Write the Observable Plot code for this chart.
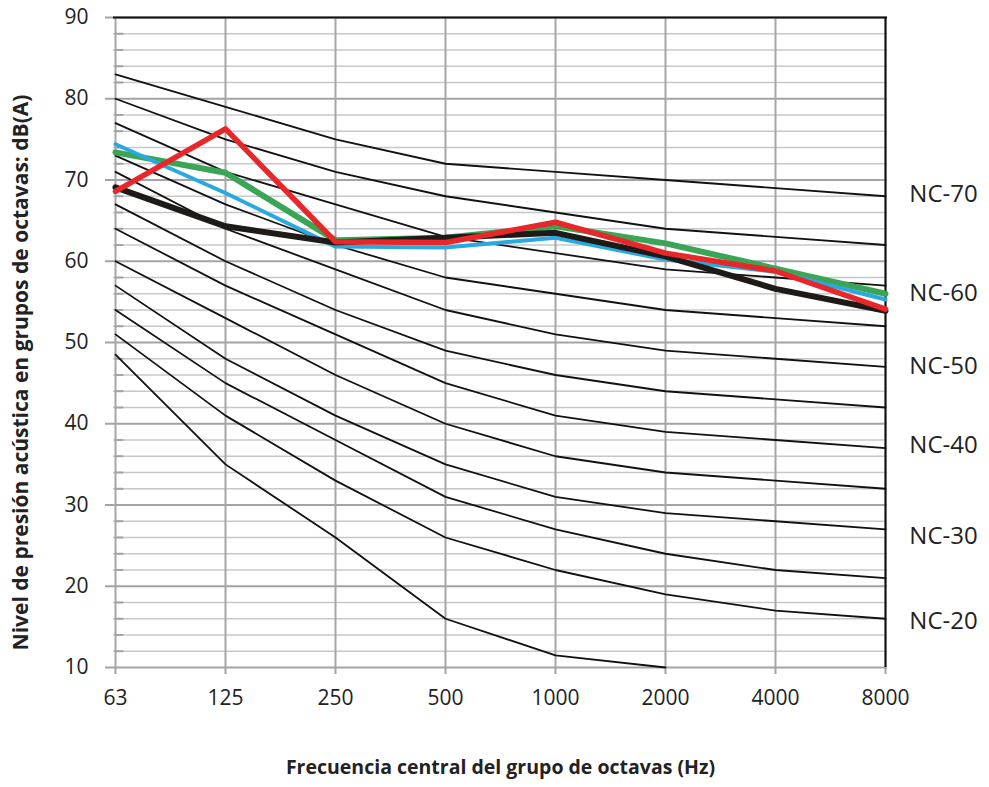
<!DOCTYPE html>
<html>
<head>
<meta charset="utf-8">
<script src="https://cdn.jsdelivr.net/npm/d3@7"></script>
<script src="https://cdn.jsdelivr.net/npm/@observablehq/plot@0.6"></script>
<style>
  html, body { margin: 0; padding: 0; background: #ffffff; }
  #chart svg { display: block; }
</style>
</head>
<body>
<div id="chart"></div>
<script>
// Frequencies (Hz) – x categories
const frecuencias = ["63", "125", "250", "500", "1000", "2000", "4000", "8000"];

// NC curves (dB)
const nc70 = [83, 79, 75, 72, 71, 70, 69, 68];
const nc65 = [80, 75, 71, 68, 66, 64, 63, 62];
const nc60 = [77, 71, 67, 63, 61, 59, 58, 57];
const nc55 = [73, 67, 62, 58, 56, 54, 53, 52];
const nc50 = [71, 64, 59, 54, 51, 49, 48, 47];
const nc45 = [67, 60, 54, 49, 46, 44, 43, 42];
const nc40 = [64, 57, 51, 45, 41, 39, 38, 37];
const nc35 = [60, 53, 46, 40, 36, 34, 33, 32];
const nc30 = [57, 48, 41, 35, 31, 29, 28, 27];
const nc25 = [54, 45, 38, 31, 27, 24, 22, 21];
const nc20 = [51, 41, 33, 26, 22, 19, 17, 16];
const nc15 = [48.5, 35, 26, 16, 11.5, 10];

// Measured series (dB)
const serieNegra = [69.1, 64.3, 62.3, 62.9, 63.5, 60.6, 56.6, 53.9];
const serieAzul  = [74.4, 68.4, 61.8, 61.7, 62.9, 60.2, 58.7, 55.3];
const serieVerde = [73.4, 70.9, 62.6, 62.9, 64.3, 62.2, 59.1, 56.0];
const serieRoja  = [68.6, 76.3, 62.4, 62.3, 64.8, 61.0, 58.8, 54.1];

// Curve labels and the level (dB) where each label sits
const ncEtiquetas = ["NC-70", "NC-60", "NC-50", "NC-40", "NC-30", "NC-20"];
const ncEtiquetaNivel = [68.3, 56.1, 47.1, 37.3, 26.2, 15.7];

// Axis ticks
const yMayores = [10, 20, 30, 40, 50, 60, 70, 80, 90];
const yMenores = d3.range(12, 90, 2).filter(v => v % 10 !== 0);

const tituloX = "Frecuencia central del grupo de octavas (Hz)";
const tituloY = "Nivel de presión acústica en grupos de octavas: dB(A)";

const curvas = [nc70, nc65, nc60, nc55, nc50, nc45, nc40, nc35, nc30, nc25, nc20, nc15];
const curvasData = curvas.flatMap((vals, i) =>
  vals.map((v, j) => ({curva: i, f: frecuencias[j], db: v})));
const toRows = vals => vals.map((v, j) => ({f: frecuencias[j], db: v}));
const etiquetas = ncEtiquetas.map((t, i) => ({t, db: ncEtiquetaNivel[i]}));

const tickShape = {draw(ctx, l) { ctx.moveTo(0, 0); ctx.lineTo(0, -l); }};

const chart = Plot.plot({
  width: 989,
  height: 787,
  marginLeft: 113,
  marginRight: 102,
  marginTop: 17,
  marginBottom: 120,
  style: {fontFamily: "'Open Sans', sans-serif", fontSize: "21px", background: "#ffffff", color: "#222"},
  x: {type: "point", domain: frecuencias, padding: 0},
  y: {domain: [10, 90]},
  marks: [
    // grid
    Plot.ruleY(yMenores, {stroke: "#c8c8cc", strokeWidth: 1.6}),
    Plot.ruleY(yMayores, {stroke: "#a3a3a8", strokeWidth: 2}),
    Plot.ruleX(frecuencias, {stroke: "#a6a6aa", strokeWidth: 2}),
    // frame top / right (black)
    Plot.ruleY([90], {stroke: "#111", strokeWidth: 2}),
    Plot.ruleX(["8000"], {stroke: "#111", strokeWidth: 2}),
    // minor ticks inside the left axis
    Plot.vector(yMenores, {x: () => "63", y: d => d, length: 7, rotate: 90, anchor: "start",
      shape: tickShape, stroke: "#a3a3a8", strokeWidth: 2}),
    // axes
    Plot.axisY({ticks: yMayores, tickSize: 8, tickPadding: 17, stroke: "#a3a3a8", strokeWidth: 2,
      fill: "#222", label: null, fontSize: 21}),
    Plot.axisX({tickSize: 7, tickPadding: 16, stroke: "#a3a3a8", strokeWidth: 2,
      fill: "#222", label: null, fontSize: 21}),
    // NC curves
    Plot.line(curvasData, {x: "f", y: "db", z: "curva", stroke: "#111", strokeWidth: 1.8}),
    // series
    Plot.line(toRows(serieVerde), {x: "f", y: "db", stroke: "#3aa655", strokeWidth: 6}),
    Plot.line(toRows(serieAzul), {x: "f", y: "db", stroke: "#29a9df", strokeWidth: 4}),
    Plot.line(toRows(serieNegra), {x: "f", y: "db", stroke: "#1d1a18", strokeWidth: 6}),
    Plot.line(toRows(serieRoja), {x: "f", y: "db", stroke: "#e8272a", strokeWidth: 5.5}),
    // NC labels
    Plot.text(etiquetas, {x: () => "8000", y: "db", text: "t", dx: 58, textAnchor: "middle",
      fontSize: 24, fill: "#222"}),
    // axis titles
    Plot.text([tituloX], {frameAnchor: "bottom", dy: 106, text: d => d, fontWeight: "bold",
      textAnchor: "middle", fontSize: 19.5, fill: "#222"}),
    Plot.text([tituloY], {frameAnchor: "left", dx: -92, dy: 30, rotate: -90, text: d => d, fontWeight: "bold",
      textAnchor: "middle", fontSize: 21, fill: "#222"})
  ]
});

document.getElementById("chart").appendChild(chart);
</script>
</body>
</html>
